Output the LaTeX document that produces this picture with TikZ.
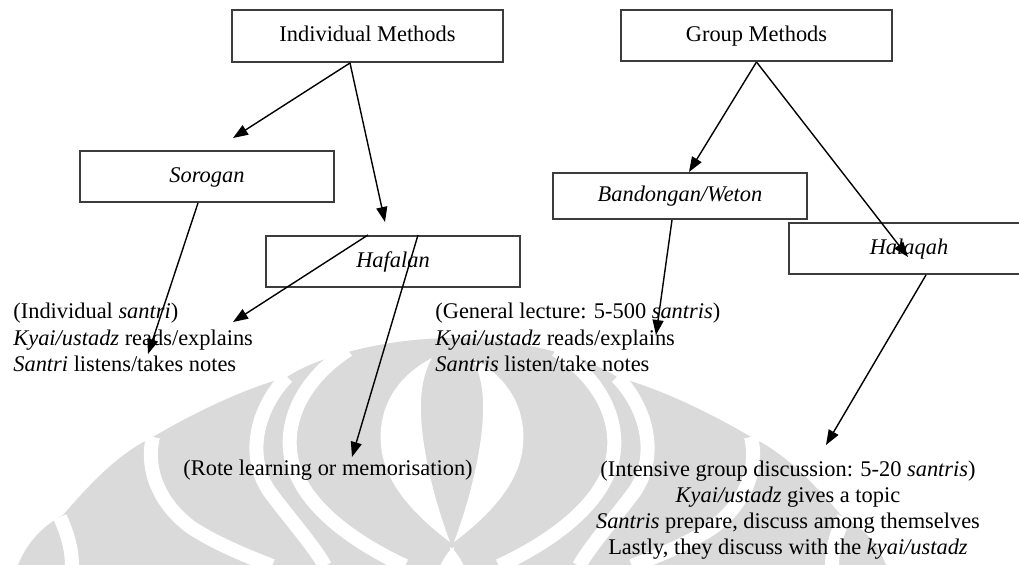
\documentclass[tikz,border=0pt]{standalone}
\usepackage{fontspec}
\setmainfont{Liberation Serif}
\usetikzlibrary{arrows.meta}
\definecolor{wmgray}{RGB}{218,218,218}
\definecolor{boxline}{RGB}{60,60,60}

% Left half of the background emblem (mirrored for the right half)
\newcommand\emblembase{%
  \fill[wmgray] (18,565) .. controls (28,540) and (45,525) .. (63,515)
    .. controls (85,490) and (115,455) .. (153,437)
    .. controls (190,415) and (240,390) .. (287,377)
    .. controls (320,355) and (390,338) .. (454,338)
    -- (454,566) -- (18,566) -- cycle;}
\newcommand\emblemcuts{%
  \draw[stripe] (60,517) .. controls (68,535) and (72,550) .. (72,566);
  \draw[stripe] (153,437) .. controls (145,470) and (160,505) .. (192,528)
    .. controls (220,546) and (250,557) .. (272,566);
  \draw[stripe] (287,377) .. controls (255,410) and (245,460) .. (272,495)
    .. controls (295,525) and (315,548) .. (325,566);
  \draw[stripe] (405,566) .. controls (360,545) and (305,510) .. (292,462)
    .. controls (282,420) and (305,378) .. (348,350);
  \fill[white] (432,358) .. controls (394,378) and (378,410) .. (381,445)
    .. controls (384,485) and (418,518) .. (450,542)
    .. controls (434,500) and (419,440) .. (421,400)
    .. controls (422,382) and (426,368) .. (432,358) -- cycle;
  \fill[white] (440,566) .. controls (445,556) and (450,549) .. (454,547) -- (454,566) -- cycle;}

\begin{document}
\begin{tikzpicture}[x=0.5pt,y=-0.5pt,
  every node/.style={font=\fontsize{11.2}{13.25}\selectfont},
  method/.style={draw=boxline, line width=1pt, inner sep=0pt,
    text height=1.5ex, text depth=.25ex, minimum width=127pt, minimum height=25.5pt},
  link/.style={line width=0.7pt, -{Triangle[length=7.5pt,width=5.5pt]}},
  note/.style={inner sep=0pt, align=left},
  stripe/.style={draw=white, line width=7pt},
  mirror/.style={shift={(904,0)}, xscale=-1}]

\useasboundingbox (0,0) rectangle (1019,565);

% background emblem
\emblembase
\begin{scope}[mirror]\emblembase\end{scope}
\emblemcuts
\begin{scope}[mirror]\emblemcuts\end{scope}

% method boxes
\node[method, minimum width=135.5pt, minimum height=26pt] (indiv) at (367.5,36) {Individual Methods};
\node[method, minimum width=135.5pt] (group) at (756.5,35.5) {Group Methods};
\node[method] (sorogan) at (207,176.5) {\textit{Sorogan}};
\node[method] (hafalan) at (393,261.5) {\textit{Hafalan}};
\node[method, minimum height=23pt] (bandongan) at (680,196) {\textit{Bandongan/Weton}};
\node[method, minimum width=120pt] (halaqah) at (909,248.5) {\textit{Halaqah}};

% descriptions (the base anchor sits on the last line)
\node[note, anchor=base west] (indnote) at (13,372)
  {(Individual \textit{santri})\\\textit{Kyai/ustadz} reads/explains\\\textit{Santri} listens/takes notes};
\node[note, anchor=base west] (gennote) at (435,372)
  {(General lecture: 5-500 \textit{santris})\\\textit{Kyai/ustadz} reads/explains\\\textit{Santris} listen/take notes};
\node[note, anchor=base west] (rotenote) at (183,476) {(Rote learning or memorisation)};
\node[inner sep=0pt, align=center, anchor=base, font=\fontsize{11.2}{13}\selectfont] (halnote) at (788,555)
  {(Intensive group discussion: 5-20 \textit{santris})\\\textit{Kyai/ustadz} gives a topic\\\textit{Santris} prepare, discuss among themselves\\Lastly, they discuss with the \textit{kyai/ustadz}};

% arrow tips
\coordinate (sorTip) at (233,138);
\coordinate (hafTip) at (385,222);
\coordinate (indTipA) at (148,354);
\coordinate (indTipB) at (233,322);
\coordinate (roteTip) at (352,457);
\coordinate (banTip) at (689,172);
\coordinate (halTip) at (908,257);
\coordinate (genTip) at (656,335);
\coordinate (intTip) at (826,445);

% connectors
\draw[link] ([xshift=-8.75pt]indiv.south) -- (sorTip);
\draw[link] ([xshift=-8.75pt]indiv.south) -- (hafTip);
\draw[link] ([xshift=-4.5pt]sorogan.south) -- (indTipA);
\draw[link] ([xshift=-12.5pt]hafalan.north) -- (indTipB);
\draw[link] ([xshift=12.5pt]hafalan.north) -- (roteTip);
\draw[link] (group.south) -- (banTip);
\draw[link] (group.south) -- (halTip);
\draw[link] ([xshift=-4pt]bandongan.south) -- (genTip);
\draw[link] ([xshift=8.5pt]halaqah.south) -- (intTip);
\end{tikzpicture}
\end{document}
